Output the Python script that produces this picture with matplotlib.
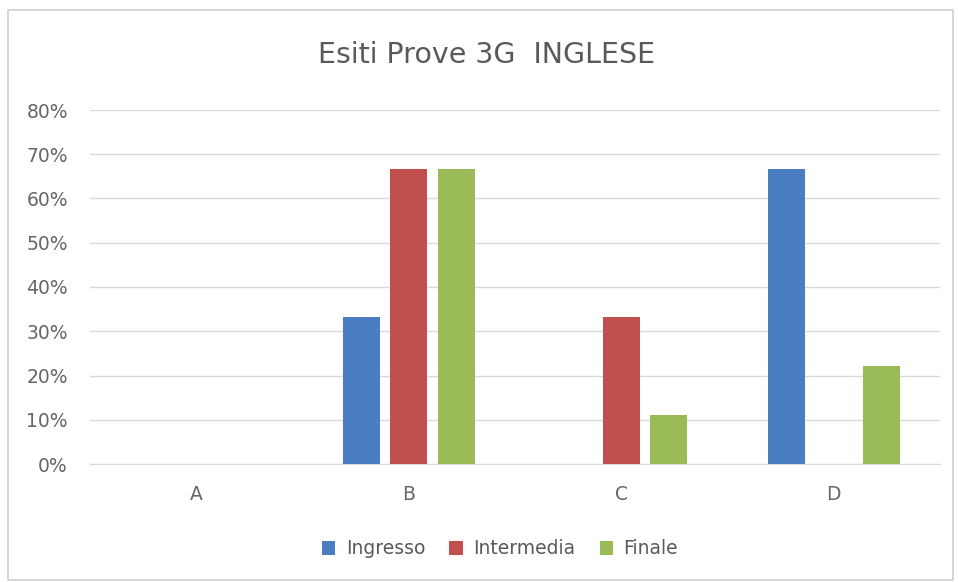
import numpy as np
import matplotlib
matplotlib.use('Agg')
import matplotlib.pyplot as plt
from matplotlib.patches import Rectangle
from matplotlib.ticker import PercentFormatter

# Data
categories = ['A', 'B', 'C', 'D']
ingresso = [0.0, 0.333, 0.0, 0.667]
intermedia = [0.0, 0.667, 0.333, 0.0]
finale = [0.0, 0.667, 0.111, 0.222]
series_names = ['Ingresso', 'Intermedia', 'Finale']
colors = ['#4A7EC2', '#C0504D', '#9BBB59']

plt.rcParams['font.family'] = ['DejaVu Sans']

fig = plt.figure(figsize=(9.58, 5.82), dpi=100)
# chart border
fig.patches.append(Rectangle((8 / 958, 2 / 582), 945 / 958, 570 / 582, transform=fig.transFigure,
                             fill=False, edgecolor='#D0D0D0', linewidth=1.2))

ax = fig.add_axes([90 / 958, 1 - 464 / 582, 850 / 958, (464 - 110) / 582])

x = np.arange(len(categories))
width = 0.174
step = 0.2236
for i, (vals, name) in enumerate(zip([ingresso, intermedia, finale], series_names)):
    ax.bar(x + (i - 1) * step, vals, width, color=colors[i], label=name, zorder=3)

ax.set_xlim(-0.5, len(categories) - 0.5)
ax.set_ylim(0, 0.8)
ax.set_yticks(np.arange(0, 0.81, 0.1))
ax.yaxis.set_major_formatter(PercentFormatter(1.0, decimals=0))
ax.set_xticks(x)
ax.set_xticklabels(categories)
ax.grid(axis='y', color='#D9D9D9', linewidth=1, zorder=0)
for s in ax.spines.values():
    s.set_visible(False)
ax.spines['bottom'].set_visible(True)
ax.spines['bottom'].set_color('#D9D9D9')
ax.tick_params(axis='both', length=0, colors='#666666', labelsize=13.5)
ax.tick_params(axis='x', pad=15)
ax.tick_params(axis='y', pad=16)

fig.text(487 / 958, 1 - 55 / 582, 'Esiti Prove 3G  INGLESE', ha='center', va='center',
         fontsize=20.5, color='#595959')

fig.legend(loc='center', bbox_to_anchor=(500 / 958, 1 - 549 / 582), ncol=3, frameon=False,
           fontsize=13.5, labelcolor='#595959', handlelength=0.72, handleheight=0.72,
           handletextpad=0.55, columnspacing=1.3)

plt.savefig('out.png', dpi=100)
